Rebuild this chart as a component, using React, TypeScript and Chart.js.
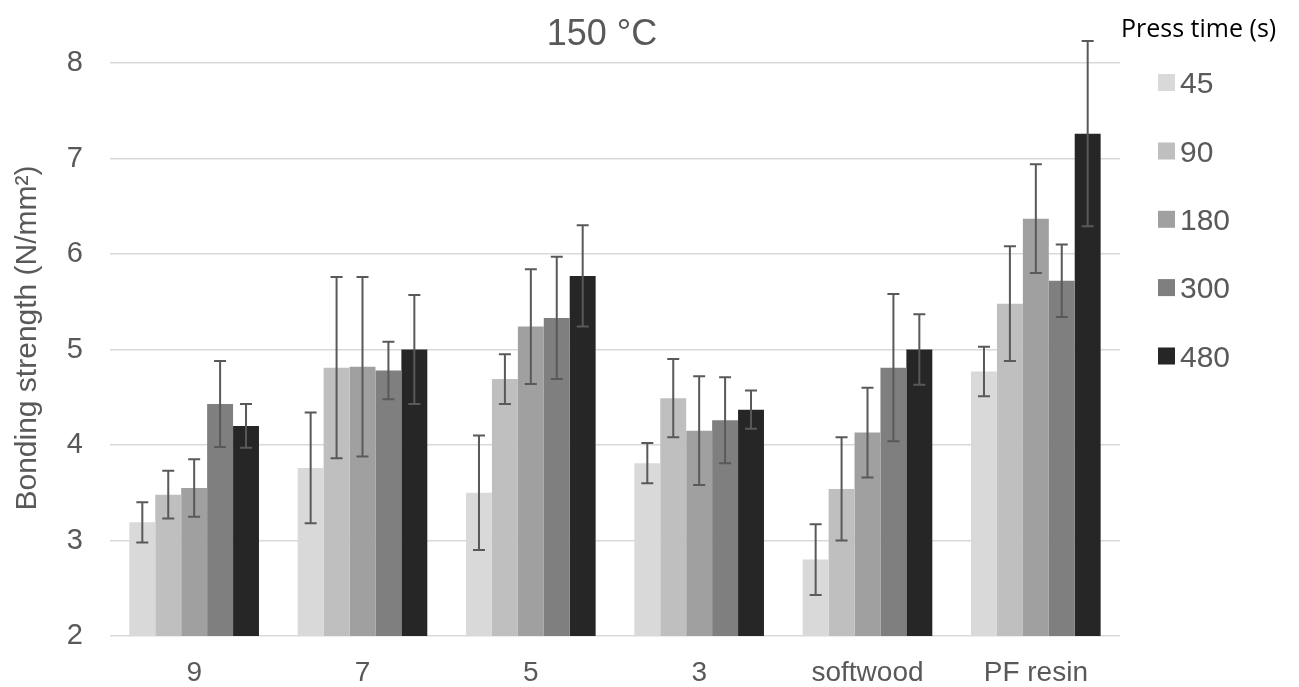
import React, { useEffect, useRef } from "react";
import { Chart, registerables } from "chart.js";

Chart.register(...registerables);

const categories = ["9", "7", "5", "3", "softwood", "PF resin"];
const seriesLabels = ["45", "90", "180", "300", "480"];
const seriesColors = ["#d9d9d9", "#bfbfbf", "#a0a0a0", "#7f7f7f", "#262626"];

const s45 = [3.19, 3.76, 3.5, 3.81, 2.8, 4.77];
const s90 = [3.48, 4.81, 4.69, 4.49, 3.54, 5.48];
const s180 = [3.55, 4.82, 5.24, 4.15, 4.13, 6.37];
const s300 = [4.43, 4.78, 5.33, 4.26, 4.81, 5.72];
const s480 = [4.2, 5.0, 5.77, 4.37, 5.0, 7.26];

const e45 = [0.21, 0.58, 0.6, 0.21, 0.37, 0.26];
const e90 = [0.25, 0.95, 0.26, 0.41, 0.54, 0.6];
const e180 = [0.3, 0.94, 0.6, 0.57, 0.47, 0.57];
const e300 = [0.45, 0.3, 0.64, 0.45, 0.77, 0.38];
const e480 = [0.23, 0.57, 0.53, 0.2, 0.37, 0.97];

const yTicks = [2, 3, 4, 5, 6, 7, 8];

const chartTitle = "150 °C";
const yTitle = "Bonding strength (N/mm²)";
const legendTitle = "Press time (s)";

const seriesValues = [s45, s90, s180, s300, s480];
const seriesErrors = [e45, e90, e180, e300, e480];

const FONT = "'Liberation Sans', Arial, sans-serif";
const GREY = "#595959";

const errorBarPlugin = {
  id: "errorBars",
  afterDatasetsDraw(chart: any) {
    const ctx = chart.ctx;
    const yScale = chart.scales.y;
    ctx.save();
    ctx.strokeStyle = GREY;
    ctx.lineWidth = 2;
    chart.data.datasets.forEach((ds: any, i: number) => {
      const meta = chart.getDatasetMeta(i);
      meta.data.forEach((el: any, j: number) => {
        const v = seriesValues[i][j];
        const e = seriesErrors[i][j];
        const x = el.x;
        const yHi = yScale.getPixelForValue(v + e);
        const yLo = yScale.getPixelForValue(v - e);
        ctx.beginPath();
        ctx.moveTo(x, yHi);
        ctx.lineTo(x, yLo);
        ctx.moveTo(x - 6, yHi);
        ctx.lineTo(x + 6, yHi);
        ctx.moveTo(x - 6, yLo);
        ctx.lineTo(x + 6, yLo);
        ctx.stroke();
      });
    });
    ctx.restore();
  },
};

const decorPlugin = {
  id: "decor",
  afterDraw(chart: any) {
    const ctx = chart.ctx;
    ctx.save();
    // chart title
    ctx.fillStyle = GREY;
    ctx.font = `36px ${FONT}`;
    ctx.textAlign = "center";
    ctx.textBaseline = "alphabetic";
    ctx.fillText(chartTitle, 602, 45);
    // y axis title
    ctx.save();
    ctx.translate(28, 338);
    ctx.rotate(-Math.PI / 2);
    ctx.font = `30px ${FONT}`;
    ctx.textAlign = "center";
    ctx.textBaseline = "middle";
    ctx.fillText(yTitle, 0, 0);
    ctx.restore();
    // legend title
    ctx.fillStyle = "#000000";
    ctx.font = `25px 'Open Sans', 'Noto Sans', sans-serif`;
    ctx.textAlign = "left";
    ctx.textBaseline = "alphabetic";
    ctx.fillText(legendTitle, 1121, 37);
    // legend items
    const rowY = [82.5, 151, 219.3, 287.6, 356];
    seriesLabels.forEach((lab, i) => {
      ctx.fillStyle = seriesColors[i];
      ctx.fillRect(1158, rowY[i] - 8.5, 17, 17);
      ctx.fillStyle = GREY;
      ctx.font = `30px ${FONT}`;
      ctx.fillText(lab, 1180, rowY[i] + 10.7);
    });
    ctx.restore();
  },
};

export default function App() {
  const ref = useRef<HTMLCanvasElement | null>(null);

  useEffect(() => {
    document.body.style.margin = "0";
    if (!ref.current) return;
    const chart = new Chart(ref.current, {
      type: "bar",
      data: {
        labels: categories,
        datasets: seriesLabels.map((lab, i) => ({
          label: lab,
          data: seriesValues[i],
          backgroundColor: seriesColors[i],
          borderWidth: 0,
          categoryPercentage: 0.77,
          barPercentage: 1.0,
        })),
      },
      options: {
        responsive: false,
        animation: false,
        layout: { padding: { top: 63, right: 179, left: 0, bottom: 0 } },
        plugins: {
          legend: { display: false },
          title: { display: false },
          tooltip: { enabled: false },
        },
        scales: {
          x: {
            grid: { display: false, drawTicks: false },
            border: { display: false },
            ticks: { color: GREY, font: { family: FONT, size: 28 }, padding: 20 },
            afterFit: (s: any) => {
              s.height = 51;
            },
          },
          y: {
            min: 2,
            max: 8,
            afterBuildTicks: (s: any) => {
              s.ticks = yTicks.map((v) => ({ value: v }));
            },
            grid: { color: "#d9d9d9", lineWidth: 1.5, drawTicks: false },
            border: { display: false },
            ticks: { color: GREY, font: { family: FONT, size: 29 }, padding: 27 },
            afterFit: (s: any) => {
              s.width = 110;
            },
          },
        },
      },
      plugins: [errorBarPlugin, decorPlugin],
    });
    return () => chart.destroy();
  }, []);

  return (
    <div style={{ width: 1299, height: 687 }}>
      <canvas ref={ref} width={1299} height={687} />
    </div>
  );
}
